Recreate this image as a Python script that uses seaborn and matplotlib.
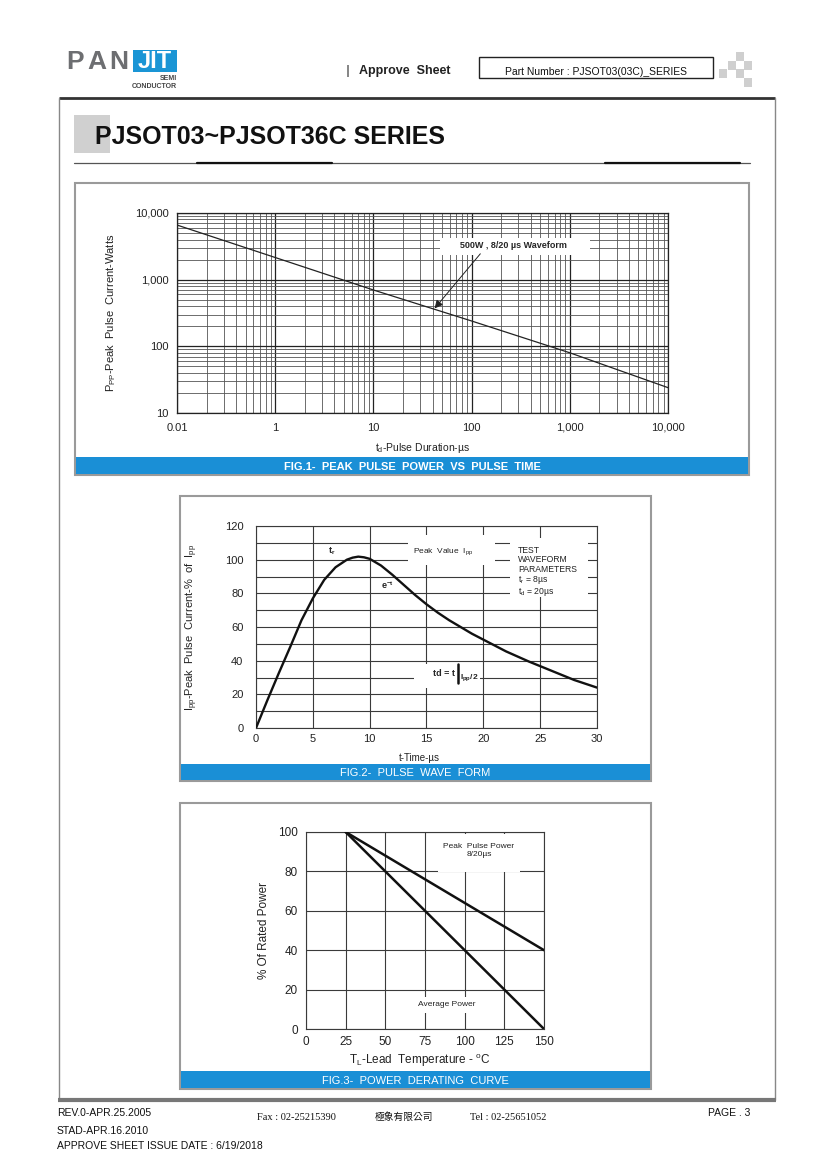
"""
PJSOT03~PJSOT36C datasheet page 3 - rating curves (Fig.1 - Fig.3)
"""
import matplotlib
matplotlib.use("Agg")
import matplotlib.pyplot as plt
import matplotlib.transforms as mtransforms
from matplotlib.patches import Rectangle
from matplotlib.ticker import LogLocator, NullFormatter
import seaborn as sns

sns.set_theme(style="white")
plt.rcParams["font.family"] = ["Liberation Sans", "DejaVu Sans"]
plt.rcParams["mathtext.fontset"] = "custom"
plt.rcParams["mathtext.rm"] = "Liberation Sans"
plt.rcParams["mathtext.it"] = "Liberation Sans:italic"
plt.rcParams["mathtext.bf"] = "Liberation Sans:bold"

W, H = 820, 1160
BLUE = "#1a8fd6"
GRID = "#3a3a3a"

# ---------- data ----------
# Fig.1 peak pulse power vs pulse time
pulse_us = [0.1, 1, 10, 100, 1000, 10000]
peak_w = [6600, 2150, 700, 240, 80, 24]
fig1_xticks = [0.1, 1, 10, 100, 1000, 10000]
fig1_xlabels = ["0.01", "1", "10", "100", "1,000", "10,000"]
fig1_yticks = [10, 100, 1000, 10000]
fig1_ylabels = ["10", "100", "1,000", "10,000"]

# Fig.2 8/20us pulse wave form
wave_t = [0, 1, 2, 3, 4, 5, 6, 7, 8, 8.5, 9, 9.5, 10, 11, 12, 13, 14, 15, 16, 17,
          18, 19, 20, 22, 24, 26, 28, 30]
wave_pct = [0, 16.5, 32.5, 48, 64, 77, 88, 95.5, 100, 101.2, 101.8, 101.4, 100.5,
            96.5, 91, 85, 79, 73.5, 68.5, 64, 60, 56, 52.5, 45.5, 39.5, 34, 28.5, 24]
fig2_xticks = [0, 5, 10, 15, 20, 25, 30]
fig2_yticks = [0, 20, 40, 60, 80, 100, 120]

# Fig.3 power derating curve
temp_c = [25, 150]
peak_pulse_pct = [100, 40]
avg_power_pct = [100, 0]
fig3_xticks = [0, 25, 50, 75, 100, 125, 150]
fig3_yticks = [0, 20, 40, 60, 80, 100]


def box(x0, y0, x1, y1):
    # page pixel box -> figure fraction rect
    return [x0 / W, 1 - y1 / H, (x1 - x0) / W, (y1 - y0) / H]


fig = plt.figure(figsize=(W / 100, H / 100), dpi=100)
fig.patch.set_facecolor("white")
# page pixel coordinates (y down) usable inside any axes
pix = mtransforms.Affine2D().scale(1 / 100, -1 / 100).translate(0, H / 100) + fig.dpi_scale_trans

bg = fig.add_axes([0, 0, 1, 1])
bg.set_xlim(0, W)
bg.set_ylim(H, 0)
bg.axis("off")

# ---------- header ----------
for ch, x in zip("PAN", [75, 97, 119]):
    bg.text(x, 62, ch, fontsize=19, fontweight="bold", color="#6d6e71", ha="center", va="center")
bg.add_patch(Rectangle((133, 50), 44, 22, fc="#1a95d5", ec="none"))
bg.text(155, 62, "JIT", fontsize=17, fontweight="bold", color="white", ha="center", va="center")
bg.text(177, 79, "SEMI", fontsize=5, fontweight="bold", color="#444", ha="right", va="center")
bg.text(177, 86, "CONDUCTOR", fontsize=5, fontweight="bold", color="#444", ha="right", va="center")

bg.add_patch(Rectangle((347, 65), 2.5, 12, fc="#888", ec="none"))
bg.text(359, 71, "Approve  Sheet", fontsize=9, fontweight="bold", color="#222", va="center")
bg.add_patch(Rectangle((479, 57), 234, 21, fc="white", ec="#222", lw=1))
bg.text(596, 72, "Part Number : PJSOT03(03C)_SERIES", fontsize=7.5, color="#111",
        family=["Liberation Sans Narrow", "Liberation Sans"], ha="center", va="center")
for sx, sy in [(736, 52), (728, 61), (744, 61), (719, 69), (736, 69), (744, 78)]:
    bg.add_patch(Rectangle((sx, sy), 8.5, 8.5, fc="#cfcfcf", ec="none"))

# page frame
bg.plot([59, 775], [98, 98], color="#333", lw=2, solid_capstyle="butt")
bg.plot([59, 59], [98, 1100], color="#888", lw=1)
bg.plot([775, 775], [98, 1100], color="#888", lw=1)
bg.plot([58, 776], [1100, 1100], color="#777", lw=3, solid_capstyle="butt")

# title
bg.add_patch(Rectangle((74, 115), 36, 38, fc="#d0d0d0", ec="none"))
bg.text(95, 137, "PJSOT03~PJSOT36C SERIES", fontsize=18, fontweight="bold", color="#111", va="center")
bg.plot([74, 750], [163, 163], color="#555", lw=0.9)
bg.plot([197, 332], [163, 163], color="#111", lw=1.6)
bg.plot([605, 740], [163, 163], color="#111", lw=1.6)

# figure panels with blue caption bands
panels = [
    (75, 183, 749, 475, 457, "FIG.1- PEAK PULSE POWER VS PULSE TIME", "bold"),
    (180, 496, 651, 781, 764, "FIG.2- PULSE WAVE FORM", "normal"),
    (180, 803, 651, 1089, 1071, "FIG.3- POWER DERATING CURVE", "normal"),
]
for x0, y0, x1, y1, yb, cap, wt in panels:
    bg.add_patch(Rectangle((x0, y0), x1 - x0, y1 - y0, fc="white", ec="#9a9a9a", lw=1.5))
    bg.add_patch(Rectangle((x0 + 1, yb), x1 - x0 - 2, y1 - yb - 1, fc=BLUE, ec="none"))
    bg.text((x0 + x1) / 2, (yb + y1) / 2 + 0.5, "  ".join(cap.split(" ")), fontsize=8, color="white",
            fontweight=wt, ha="center", va="center")

# ---------- Fig.1 ----------
ax1 = fig.add_axes(box(177, 213, 668, 413))
ax1.set_facecolor("none")
sns.lineplot(x=pulse_us, y=peak_w, ax=ax1, color="#222", lw=0.9, zorder=3)
ax1.set_xscale("log")
ax1.set_yscale("log")
ax1.set_xlim(0.1, 10000)
ax1.set_ylim(10, 10000)
ax1.xaxis.set_minor_locator(LogLocator(base=10, subs=range(2, 10)))
ax1.yaxis.set_minor_locator(LogLocator(base=10, subs=range(2, 10)))
ax1.xaxis.set_minor_formatter(NullFormatter())
ax1.yaxis.set_minor_formatter(NullFormatter())
ax1.set_xticks(fig1_xticks, fig1_xlabels)
ax1.set_yticks(fig1_yticks, fig1_ylabels)
ax1.set_axisbelow(True)
ax1.grid(which="major", color="#222", lw=0.9)
ax1.grid(which="minor", color="#555", lw=0.6)
ax1.tick_params(which="both", length=0, labelsize=8, colors="#222")
ax1.tick_params(axis="y", pad=6)
ax1.tick_params(axis="x", pad=7)
for sp in ax1.spines.values():
    sp.set_color("#222")
    sp.set_linewidth(0.9)
ax1.set_ylabel("P$_{\\mathrm{PP}}$-Peak  Pulse  Current-Watts", fontsize=8, color="#222")
ax1.yaxis.set_label_coords(-0.12, 0.5)
ax1.set_xlabel("t$_{\\mathrm{d}}$-Pulse Duration-µs", fontsize=7.5, color="#222")
ax1.xaxis.set_label_coords(0.5, -0.14)
ax1.add_patch(Rectangle((440, 238), 150, 17, transform=pix, fc="white", ec="none", zorder=2, clip_on=False))
ax1.annotate("500W , 8/20 µs Waveform", xy=(42, 370), xycoords="data",
             xytext=(513, 246), textcoords=pix, fontsize=6.5, fontweight="bold",
             ha="center", va="center", zorder=4,
             arrowprops=dict(arrowstyle="-|>", color="#222", lw=0.7, mutation_scale=12,
                             shrinkA=0, shrinkB=0, relpos=(0.22, 0.0)))

# ---------- Fig.2 ----------
ax2 = fig.add_axes(box(256, 526, 597, 728))
ax2.set_facecolor("none")
sns.lineplot(x=wave_t, y=wave_pct, ax=ax2, color="#111", lw=1.7, zorder=3)
ax2.set_xlim(0, 30)
ax2.set_ylim(0, 120)
ax2.set_xticks(fig2_xticks)
ax2.set_yticks(fig2_yticks)
ax2.set_yticks(range(0, 121, 10), minor=True)
ax2.set_axisbelow(True)
ax2.grid(which="both", color=GRID, lw=0.8)
ax2.tick_params(which="both", length=0, labelsize=8, colors="#222")
ax2.tick_params(axis="y", pad=9)
ax2.tick_params(axis="x", pad=4)
for sp in ax2.spines.values():
    sp.set_color(GRID)
    sp.set_linewidth(0.8)
ax2.set_ylabel("I$_{\\mathrm{pp}}$-Peak  Pulse  Current-%  of  I$_{\\mathrm{pp}}$", fontsize=8, color="#222")
ax2.yaxis.set_label_coords(-0.165, 0.5)
ax2.set_xlabel("t-Time-µs", fontsize=7, color="#222")
ax2.xaxis.set_label_coords(0.48, -0.125)
for rx0, ry0, rx1, ry1 in [(408, 535, 495, 565), (510, 538, 588, 597), (414, 664, 480, 688)]:
    ax2.add_patch(Rectangle((rx0, ry0), rx1 - rx0, ry1 - ry0, transform=pix,
                            fc="white", ec="none", zorder=2, clip_on=False))
ax2.text(332, 551, "t$_\\mathbf{r}$", transform=pix, fontsize=6.5, fontweight="bold", ha="center", va="center")
ax2.text(443, 552, "Peak  Value  I$_{\\mathrm{pp}}$", transform=pix, fontsize=6, ha="center", va="center", color="#222")
ax2.text(518, 546, "TEST\nWAVEFORM\nPARAMETERS\nt$_{\\mathrm{r}}$ = 8µs\nt$_{\\mathrm{d}}$ = 20µs",
         transform=pix, fontsize=6.2, ha="left", va="top", linespacing=1.05, color="#222")
ax2.text(387, 585, "e$^{\\mathbf{-t}}$", transform=pix, fontsize=6.5, fontweight="bold", ha="center", va="center")
ax2.text(455, 673, "td = t", transform=pix, fontsize=6.5, fontweight="bold", ha="right", va="center")
ax2.plot([457.5, 457.5], [664, 683], transform=pix, color="#111", lw=1.8, zorder=4, clip_on=False)
ax2.text(460, 678, "I$_{\\mathbf{pp}}$/2", transform=pix, fontsize=6, fontweight="bold", ha="left", va="center")

# ---------- Fig.3 ----------
ax3 = fig.add_axes(box(306, 832, 544, 1029))
ax3.set_facecolor("none")
sns.lineplot(x=temp_c, y=peak_pulse_pct, ax=ax3, color="#111", lw=1.8, zorder=3)
sns.lineplot(x=temp_c, y=avg_power_pct, ax=ax3, color="#111", lw=1.8, zorder=3)
ax3.set_xlim(0, 150)
ax3.set_ylim(0, 100)
ax3.set_xticks(fig3_xticks)
ax3.set_yticks(fig3_yticks)
ax3.set_axisbelow(True)
ax3.grid(which="major", color=GRID, lw=0.8)
ax3.tick_params(length=0, labelsize=8.5, colors="#222")
ax3.tick_params(axis="y", pad=6)
ax3.tick_params(axis="x", pad=5)
for sp in ax3.spines.values():
    sp.set_color(GRID)
    sp.set_linewidth(0.8)
ax3.set_ylabel("% Of Rated Power", fontsize=8.5, color="#222")
ax3.yaxis.set_label_coords(-0.15, 0.5)
ax3.set_xlabel("T$_{\\mathrm{L}}$-Lead  Temperature - $^{\\mathrm{o}}$C", fontsize=8.5, color="#222")
ax3.xaxis.set_label_coords(0.48, -0.12)
for rx0, ry0, rx1, ry1 in [(438, 834, 520, 872), (415, 997, 480, 1013)]:
    ax3.add_patch(Rectangle((rx0, ry0), rx1 - rx0, ry1 - ry0, transform=pix,
                            fc="white", ec="none", zorder=2, clip_on=False))
ax3.text(479, 851, "Peak  Pulse Power\n8/20µs", transform=pix, fontsize=6, ha="center", va="center",
         linespacing=1.2, color="#222")
ax3.text(447, 1005, "Average Power", transform=pix, fontsize=6, ha="center", va="center", color="#222")

# ---------- footer ----------
bg.text(57, 1113, "REV.0-APR.25.2005", fontsize=7.5, color="#111", va="center")
bg.text(57, 1131, "STAD-APR.16.2010", fontsize=7.5, color="#111", va="center")
bg.text(57, 1146, "APPROVE SHEET ISSUE DATE : 6/19/2018", fontsize=7.5, color="#111", va="center")
serif_cjk = ["Liberation Serif", "Noto Sans CJK TC"]
bg.text(257, 1117, "Fax : 02-25215390", fontsize=7.5, family=serif_cjk, color="#111", va="center")
bg.text(375, 1117, "極象有限公司", fontsize=7, family=["Noto Sans CJK TC"], color="#111", va="center")
bg.text(470, 1117, "Tel : 02-25651052", fontsize=7.5, family=serif_cjk, color="#111", va="center")
bg.text(750, 1113, "PAGE . 3", fontsize=7.5, color="#111", ha="right", va="center")

fig.savefig("out.png", dpi=100, facecolor="white")
